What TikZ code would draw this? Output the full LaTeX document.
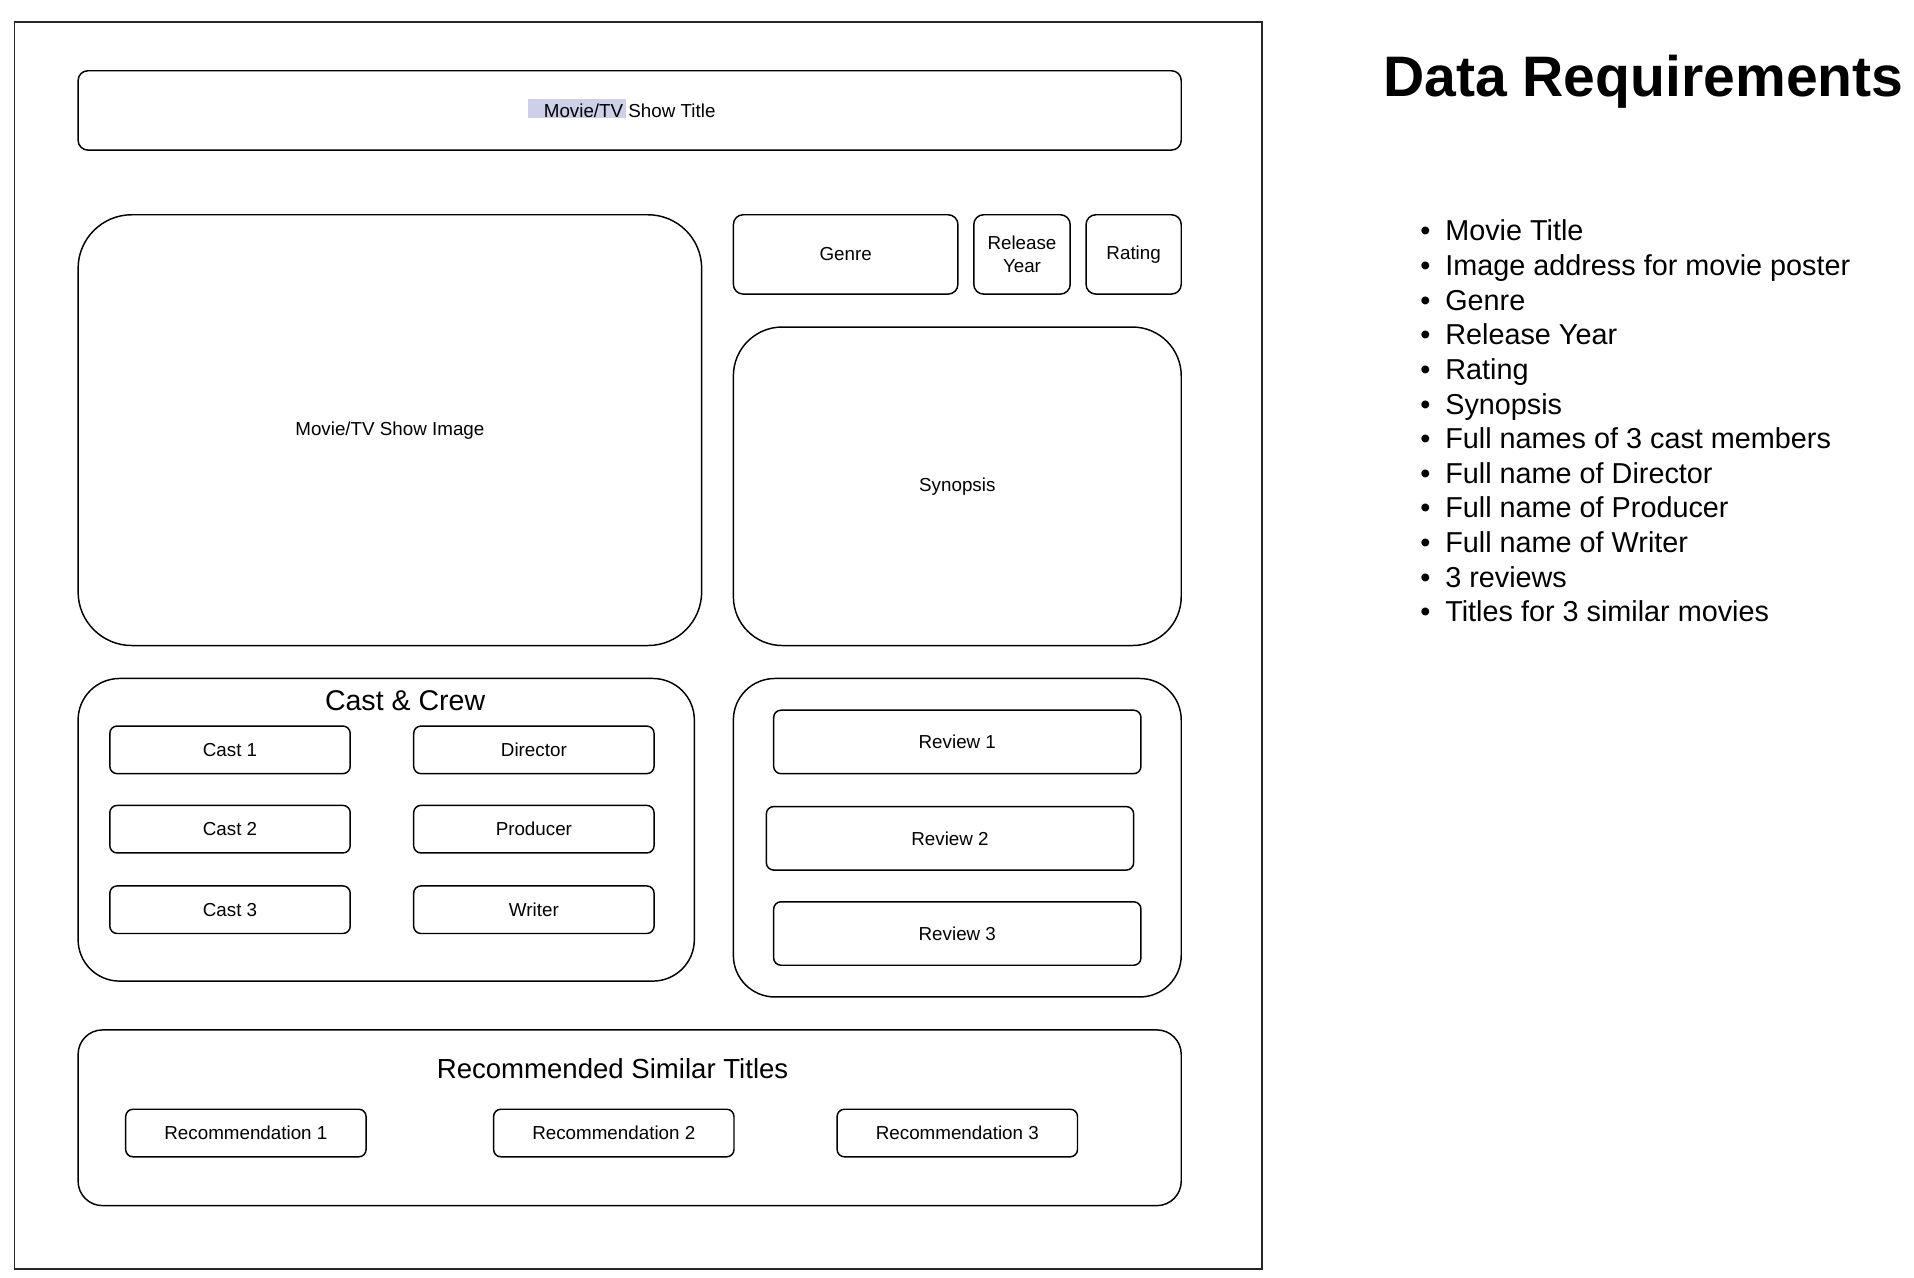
\documentclass[tikz,border=0pt]{standalone}
\usepackage{fontspec}
\setmainfont{Liberation Sans}
\definecolor{hilite}{RGB}{205,208,232}
\begin{document}
\begin{tikzpicture}[x=0.5pt,y=-0.5pt,
    sz/.style n args={2}{minimum width=#1*0.5pt,minimum height=#2*0.5pt},
    panel/.style={draw,line width=0.6pt,inner sep=0pt,rounded corners=#1,
        font=\fontsize{7.7}{9.5}\selectfont,align=center},
    box/.style={panel=4pt},
    slot/.style={panel=3pt,sz={197}{39}},
    heading/.style={inner sep=0pt,font=\fontsize{11.7}{14}\selectfont},
    bigtitle/.style={anchor=base west,inner sep=0pt,font=\fontsize{23.4}{28}\bfseries\selectfont},
    item/.style={anchor=base west,inner sep=0pt,font=\fontsize{11.8}{14}\selectfont},
    dot/.style={anchor=base,inner sep=0pt,font=\fontsize{11.8}{14}\selectfont}]
    \useasboundingbox (0,0) rectangle (1568.5,1047.3);
    \node[draw,line width=0.7pt,black!85,inner sep=0pt,sz={1022}{1022}] (frame) at (523,529) {};
    \fill[hilite] (433,81) rectangle (513,97);
    \node[box,sz={904}{65}] (title) at (516,90.5) {Movie/TV Show Title};
    \node[panel=22pt,sz={511}{353}] (poster) at (319.5,352.5) {Movie/TV Show Image};
    \node[box,sz={184}{65}] (genre) at (693,208.5) {Genre};
    \node[box,sz={79}{65}] (year) at (837.5,208.5) {Release\\Year};
    \node[box,sz={78}{65}] (rating) at (929,208.5) {Rating};
    \node[panel=20pt,sz={367}{261}] (synopsis) at (784.5,398.5) {Synopsis};
    \node[panel=17pt,sz={505}{248}] (crew) at (316.5,680) {};
    \node[heading] (crewhead) at (332,574) {Cast \& Crew};
    \node[slot] (cast1) at (188.5,614.5) {Cast 1};
    \node[slot] (cast2) at (188.5,679.5) {Cast 2};
    \node[slot] (cast3) at (188.5,745.5) {Cast 3};
    \node[slot] (director) at (437.5,614.5) {Director};
    \node[slot] (producer) at (437.5,679.5) {Producer};
    \node[slot] (writer) at (437.5,745.5) {Writer};
    \node[panel=17pt,sz={367}{261}] (reviews) at (784.5,686.5) {};
    \node[panel=3pt,sz={301}{52}] (review1) at (784.5,608) {Review 1};
    \node[panel=3pt,sz={301}{52}] (review2) at (778.5,687) {Review 2};
    \node[panel=3pt,sz={301}{52}] (review3) at (784.5,765) {Review 3};
    \node[panel=10pt,sz={904}{144}] (similar) at (516,916) {};
    \node[heading,font=\fontsize{11.3}{14}\selectfont] (similarhead) at (502,876) {Recommended Similar Titles};
    \node[slot] (rec1) at (201.5,928.5) {Recommendation 1};
    \node[slot] (rec2) at (503,928.5) {Recommendation 2};
    \node[slot] (rec3) at (784.5,928.5) {Recommendation 3};
    \node[bigtitle] (reqtitle) at (1133,79) {Data Requirements};
    \foreach \txt [count=\i from 0] in {Movie Title,Image address for movie poster,Genre,Release Year,Rating,Synopsis,Full names of 3 cast members,Full name of Director,Full name of Producer,Full name of Writer,3 reviews,Titles for 3 similar movies} {
        \node[dot] (dot\i) at (1168,{197.5+28.36*\i}) {\textbullet};
        \node[item] (req\i) at (1184,{197.5+28.36*\i}) {\txt};
    }
\end{tikzpicture}
\end{document}
